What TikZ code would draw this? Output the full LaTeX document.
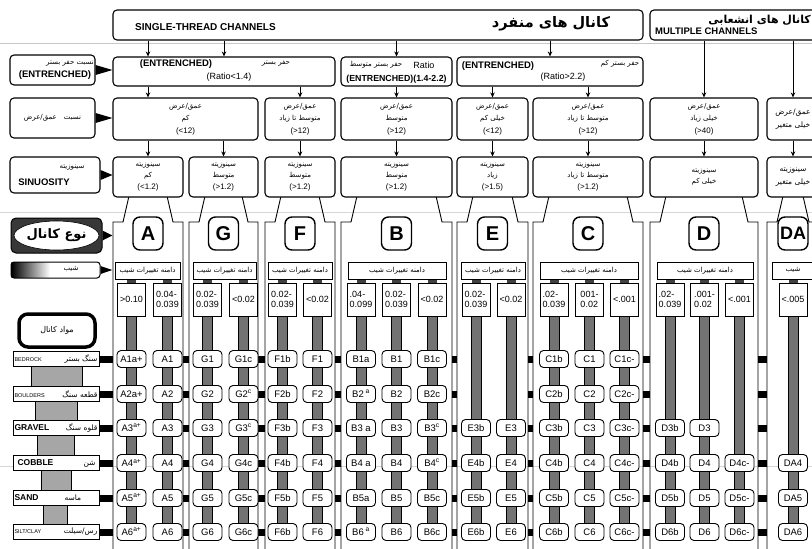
\documentclass[tikz,border=0pt]{standalone}
\usepackage{fontspec}
\setmainfont{Liberation Sans}
\newfontfamily\prsfont[Script=Arabic]{DejaVu Sans}
\TeXXeTstate=1
\newcommand\fatx[1]{{\prsfont\beginR #1\endR}}
\newcommand\numtx[1]{{\fontsize{8}{12}\selectfont #1}}
\usetikzlibrary{arrows.meta,shapes.geometric}
\begin{document}
\begin{tikzpicture}[x=1pt,y=-1pt,
 bx/.style={draw, line width=1.1pt, rounded corners=4pt, fill=white, inner sep=0pt},
 wd/.style={bx, align=center, font=\fontsize{7}{12.5}\selectfont},
 sn/.style={bx, align=center, font=\fontsize{7}{11.5}\selectfont},
 arr/.style={line width=0.8pt, -{Stealth[length=5pt,width=4.5pt]}},
 cellbox/.style={draw, line width=0.9pt, rounded corners=4pt, fill=white, minimum width=29pt, minimum height=17pt, inner sep=0pt, font=\fontsize{9.5}{9.5}\selectfont},
 valbox/.style={draw, line width=0.9pt, fill=white, minimum width=28pt, minimum height=33pt, inner sep=1pt, align=left, font=\fontsize{9}{10.5}\selectfont},
 rangebox/.style={draw, line width=0.9pt, fill=white, minimum height=17pt, inner sep=0pt, font=\fontsize{7}{7}\selectfont},
 letbox/.style={draw, line width=1.4pt, rounded corners=7pt, fill=white, minimum width=30pt, minimum height=33pt, inner sep=0pt, font=\fontsize{20}{20}\selectfont\bfseries},
 bar/.style={draw=black, line width=0.7pt, fill=black!55},
 colline/.style={line width=0.9pt},
 lbl/.style={inner sep=0pt},
 enb/.style={inner sep=0pt, font=\fontsize{9.5}{10}\selectfont\bfseries},
 rto/.style={inner sep=0pt, font=\fontsize{9}{10}\selectfont},
 fsm/.style={inner sep=0pt, font=\fontsize{7}{7}\selectfont},
 matbox/.style={draw, line width=0.9pt, fill=white, minimum width=86pt, minimum height=15pt, inner sep=0pt},
 ptr/.style={fill=black}
]
\useasboundingbox (0,0) rectangle (812,549);
\clip (0,0) rectangle (812,549);
\fill[white] (0,0) rectangle (812,549);

% faint scan lines
\draw[black!22, line width=0.7pt] (0,43) -- (812,43);
\draw[black!16, line width=0.7pt] (0,212) -- (812,212);
\draw[black!16, line width=0.7pt] (0,466) -- (812,466);

% column outlines
\foreach \xl/\xr in {113/183,189/258,265/335,341/452,457/528,533/643,650/758,767/819}{
 \draw[colline] (\xl,560) -- (\xl,222) -- (\xl+10,222) -- (\xl+16,196);
 \draw[colline] (\xr,560) -- (\xr,222) -- (\xr-10,222) -- (\xr-16,196);
}

% separator marks
\foreach \a/\b in {183/189,258/265,335/341,452/457,528/533,643/650,758/767}{
 \foreach \yy in {359,394,428,463,498,532}{
  \fill (\a,\yy-3.5) rectangle (\b,\yy+3.5);
 }
}

% ---------- top row
\node[bx, minimum width=530pt, minimum height=30pt] (top1) at (378,25) {};
\node[bx, minimum width=180pt, minimum height=30pt] (top2) at (740,25) {};
\node[lbl, font=\fontsize{10}{10}\selectfont\bfseries] (tS) at (205.5,27) {SINGLE-THREAD CHANNELS};
\node[lbl, font=\fontsize{14.5}{14.5}\selectfont\bfseries] (tSf) at (551,24) {\fatx{کانال های منفرد}};
\node[lbl, font=\fontsize{11}{11}\selectfont\bfseries, anchor=east] (tMf) at (811,20) {\fatx{کانال های انشعابی}};
\node[lbl, font=\fontsize{9.5}{10}\selectfont\bfseries, anchor=west] (tM) at (655,31) {MULTIPLE CHANNELS};

% ---------- row 2 : entrenchment
\node[bx, minimum width=85pt, minimum height=30pt] (lab1) at (52.5,70) {};
\node[fsm] (lab1a) at (70,63) {\fatx{نسبت حفر بستر}};
\node[enb] (lab1b) at (55,75) {(ENTRENCHED)};
\node[bx, minimum width=222pt, minimum height=29pt] (ent1) at (224,71.5) {};
\node[bx, minimum width=111pt, minimum height=29pt] (ent2) at (396.5,71.5) {};
\node[bx, minimum width=186pt, minimum height=29pt] (ent3) at (550,71.5) {};
\node[enb] (e1a) at (176,64) {(ENTRENCHED)};
\node[fsm] (e1b) at (276,63) {\fatx{حفر بستر}};
\node[rto] (e1c) at (229,77) {(Ratio<1.4)};
\node[fsm] (e2a) at (376,65) {\fatx{حفر بستر متوسط}};
\node[rto] (e2b) at (424,65) {Ratio};
\node[lbl, font=\fontsize{8.8}{9}\selectfont\bfseries] (e2c) at (396.5,79) {(ENTRENCHED)(1.4-2.2)};
\node[enb] (e3a) at (498,66) {(ENTRENCHED)};
\node[fsm] (e3b) at (620,64) {\fatx{حفر بستر کم}};
\node[rto] (e3c) at (563,77) {(Ratio>2.2)};

% ---------- row 3 : width/depth
\node[bx, minimum width=85pt, minimum height=40pt, font=\fontsize{7}{8}\selectfont] (lab2) at (52.5,118) {\fatx{نسبت\quad عمق/عرض}};
\node[wd, minimum width=145pt, minimum height=42pt] (wdA) at (185.5,119) {\fatx{عمق/عرض}\\\fatx{کم}\\\numtx{(<12)}};
\node[wd, minimum width=70pt, minimum height=42pt] (wdF) at (300,119) {\fatx{عمق/عرض}\\\fatx{متوسط تا زیاد}\\\numtx{(>12)}};
\node[wd, minimum width=111pt, minimum height=42pt] (wdB) at (396.5,119) {\fatx{عمق/عرض}\\\fatx{متوسط}\\\numtx{(>12)}};
\node[wd, minimum width=71pt, minimum height=42pt] (wdE) at (492.5,119) {\fatx{عمق/عرض}\\\fatx{خیلی کم}\\\numtx{(<12)}};
\node[wd, minimum width=110pt, minimum height=42pt] (wdC) at (588,119) {\fatx{عمق/عرض}\\\fatx{متوسط تا زیاد}\\\numtx{(>12)}};
\node[wd, minimum width=108pt, minimum height=42pt] (wdD) at (704,119) {\fatx{عمق/عرض}\\\fatx{خیلی زیاد}\\\numtx{(>40)}};
\node[wd, minimum width=52pt, minimum height=42pt, font=\fontsize{7.5}{13}\selectfont] (wdDA) at (793,119) {\fatx{عمق/عرض}\\\fatx{خیلی متغیر}};

% ---------- row 4 : sinuosity
\node[bx, minimum width=90pt, minimum height=36pt] (lab3) at (55,175) {};
\node[fsm] (lab3a) at (72,168) {\fatx{سینوزیته}};
\node[enb] (lab3b) at (44,182) {SINUOSITY};
\node[sn, minimum width=70pt, minimum height=40pt] (sinA) at (148,177) {\fatx{سینوزیته}\\\fatx{کم}\\\numtx{(<1.2)}};
\node[sn, minimum width=69pt, minimum height=40pt] (sinG) at (223.5,177) {\fatx{سینوزیته}\\\fatx{متوسط}\\\numtx{(>1.2)}};
\node[sn, minimum width=70pt, minimum height=40pt] (sinF) at (300,177) {\fatx{سینوزیته}\\\fatx{متوسط}\\\numtx{(>1.2)}};
\node[sn, minimum width=111pt, minimum height=40pt] (sinB) at (396.5,177) {\fatx{سینوزیته}\\\fatx{متوسط}\\\numtx{(>1.2)}};
\node[sn, minimum width=71pt, minimum height=40pt] (sinE) at (492.5,177) {\fatx{سینوزیته}\\\fatx{زیاد}\\\numtx{(>1.5)}};
\node[sn, minimum width=110pt, minimum height=40pt] (sinC) at (588,177) {\fatx{سینوزیته}\\\fatx{متوسط تا زیاد}\\\numtx{(>1.2)}};
\node[sn, minimum width=108pt, minimum height=40pt] (sinD) at (704,177) {\fatx{سینوزیته}\\\fatx{خیلی کم}};
\node[sn, minimum width=52pt, minimum height=40pt, font=\fontsize{7.5}{13}\selectfont] (sinDA) at (793,177) {\fatx{سینوزیته}\\\fatx{خیلی متغیر}};

% ---------- channel type letters
\node[letbox] (lA) at (148,233.5) {A};
\node[letbox] (lG) at (223.5,233.5) {G};
\node[letbox] (lF) at (300,233.5) {F};
\node[letbox] (lB) at (396.5,233.5) {B};
\node[letbox] (lE) at (492.5,233.5) {E};
\node[letbox] (lC) at (588,233.5) {C};
\node[letbox] (lD) at (704,233.5) {D};
\node[letbox, font=\fontsize{18}{18}\selectfont\bfseries] (lDA) at (793,233.5) {DA};

% ---------- bars
\foreach \x in {131.5,167.5,207.5,243.5,282.5,317.5,361,396.5,432,476,511,554,589.5,624.5,670,704.5,739.5,793}{
 \draw[bar] (\x-5,316) rectangle (\x+5,532);
 \fill[black!75] (\x-4.5,279) rectangle (\x+4.5,283.5);
}

% ---------- slope range boxes
\node[rangebox, minimum width=65pt] (rA) at (147.5,270.5) {\fatx{دامنه تغییرات شیب}};
\node[rangebox, minimum width=63pt] (rG) at (224.5,270.5) {\fatx{دامنه تغییرات شیب}};
\node[rangebox, minimum width=64pt] (rF) at (300,270.5) {\fatx{دامنه تغییرات شیب}};
\node[rangebox, minimum width=98pt] (rB) at (397,270.5) {\fatx{دامنه تغییرات شیب}};
\node[rangebox, minimum width=64pt] (rE) at (493,270.5) {\fatx{دامنه تغییرات شیب}};
\node[rangebox, minimum width=98pt] (rC) at (589,270.5) {\fatx{دامنه تغییرات شیب}};
\node[rangebox, minimum width=96pt] (rD) at (705,270.5) {\fatx{دامنه تغییرات شیب}};
\node[rangebox, minimum width=42pt] (rDA) at (793,270.5) {\fatx{شیب}};

% ---------- slope value boxes
\node[valbox] (vA1) at (131.5,299.5) {>0.10};
\node[valbox] (vA2) at (167.5,299.5) {0.04-\\0.039};
\node[valbox] (vG1) at (207.5,299.5) {0.02-\\0.039};
\node[valbox] (vG2) at (243.5,299.5) {<0.02};
\node[valbox] (vF1) at (282.5,299.5) {0.02-\\0.039};
\node[valbox] (vF2) at (317.5,299.5) {<0.02};
\node[valbox] (vB1) at (361,299.5) {.04-\\0.099};
\node[valbox] (vB2) at (396.5,299.5) {0.02-\\0.039};
\node[valbox] (vB3) at (432,299.5) {<0.02};
\node[valbox] (vE1) at (476,299.5) {0.02-\\0.039};
\node[valbox] (vE2) at (511,299.5) {<0.02};
\node[valbox] (vC1) at (554,299.5) {.02-\\0.039};
\node[valbox] (vC2) at (589.5,299.5) {001-\\0.02};
\node[valbox] (vC3) at (624.5,299.5) {<.001};
\node[valbox] (vD1) at (670,299.5) {.02-\\0.039};
\node[valbox] (vD2) at (704.5,299.5) {.001-\\0.02};
\node[valbox] (vD3) at (739.5,299.5) {<.001};
\node[valbox] (vDA) at (793,299.5) {<.005};

% ---------- cells, regular ones
\foreach \rw/\yy in {1/359,2/394,3/428,4/463,5/498,6/532}{
 \node[cellbox] (A\rw) at (167.5,\yy) {A\rw};
 \node[cellbox] (G\rw) at (207.5,\yy) {G\rw};
 \node[cellbox] (Fb\rw) at (282.5,\yy) {F\rw b};
 \node[cellbox] (F\rw) at (317.5,\yy) {F\rw};
 \node[cellbox] (B\rw) at (396.5,\yy) {B\rw};
 \node[cellbox] (Cb\rw) at (554,\yy) {C\rw b};
 \node[cellbox] (C\rw) at (589.5,\yy) {C\rw};
 \node[cellbox] (Cc\rw) at (624.5,\yy) {C\rw c-};
}
\foreach \rw/\yy in {3/428,4/463,5/498,6/532}{
 \node[cellbox] (Eb\rw) at (476,\yy) {E\rw b};
 \node[cellbox] (E\rw) at (511,\yy) {E\rw};
 \node[cellbox] (Db\rw) at (670,\yy) {D\rw b};
 \node[cellbox] (D\rw) at (704.5,\yy) {D\rw};
}
\foreach \rw/\yy in {4/463,5/498,6/532}{
 \node[cellbox] (Dc\rw) at (739.5,\yy) {D\rw c-};
 \node[cellbox] (DA\rw) at (793,\yy) {DA\rw};
}
% irregular cells
\node[cellbox] (Aa1) at (131.5,359) {A1a+};
\node[cellbox] (Aa2) at (131.5,394) {A2a+};
\node[cellbox] (Aa3) at (131.5,428) {A3\textsuperscript{a+}};
\node[cellbox] (Aa4) at (131.5,463) {A4\textsuperscript{a+}};
\node[cellbox] (Aa5) at (131.5,498) {A5\textsuperscript{a+}};
\node[cellbox] (Aa6) at (131.5,532) {A6\textsuperscript{a+}};
\node[cellbox] (Gc1) at (243.5,359) {G1c};
\node[cellbox] (Gc2) at (243.5,394) {G2\textsuperscript{c}};
\node[cellbox] (Gc3) at (243.5,428) {G3\textsuperscript{c}};
\node[cellbox] (Gc4) at (243.5,463) {G4c};
\node[cellbox] (Gc5) at (243.5,498) {G5c};
\node[cellbox] (Gc6) at (243.5,532) {G6c};
\node[cellbox] (Ba1) at (361,359) {B1a};
\node[cellbox] (Ba2) at (361,394) {B2\textsuperscript{ a}};
\node[cellbox] (Ba3) at (361,428) {B3 a};
\node[cellbox] (Ba4) at (361,463) {B4 a};
\node[cellbox] (Ba5) at (361,498) {B5a};
\node[cellbox] (Ba6) at (361,532) {B6\textsuperscript{ a}};
\node[cellbox] (Bc1) at (432,359) {B1c};
\node[cellbox] (Bc2) at (432,394) {B2c};
\node[cellbox] (Bc3) at (432,428) {B3\textsuperscript{c}};
\node[cellbox] (Bc4) at (432,463) {B4\textsuperscript{c}};
\node[cellbox] (Bc5) at (432,498) {B5c};
\node[cellbox] (Bc6) at (432,532) {B6c};

% ---------- left legend
\node[draw, line width=1pt, fill=black!78, rounded corners=5pt, minimum width=91pt, minimum height=35pt, inner sep=0pt] (typ) at (56.5,235.5) {};
\node[ellipse, draw, line width=0.6pt, fill=white, minimum width=85pt, minimum height=29pt, inner sep=0pt, font=\fontsize{13}{13}\selectfont\bfseries] (typE) at (56.5,235.5) {\fatx{نوع کانال}};
\shade[left color=black, right color=white] (11.5,262.5) rectangle (50,277.5);
\node[draw, line width=1pt, rounded corners=3pt, minimum width=89pt, minimum height=16pt, inner sep=0pt] (slope) at (55.5,270) {};
\node[fsm] (slopeT) at (71,269) {\fatx{شیب}};
\node[draw, line width=3.5pt, rounded corners=9pt, fill=white, minimum width=76pt, minimum height=33pt, inner sep=0pt, font=\fontsize{8}{8}\selectfont] (mat) at (57,330.5) {\fatx{مواد کانال}};

% material tapered connectors
\draw[fill=black!35, line width=0.7pt] (31,366) rectangle (82,387);
\draw[fill=black!35, line width=0.7pt] (35,401) rectangle (77,421);
\draw[fill=black!35, line width=0.7pt] (37,435) rectangle (74,456);
\draw[fill=black!35, line width=0.7pt] (41,470) rectangle (71,491);
\draw[fill=black!35, line width=0.7pt] (43,505) rectangle (67,525);
% material boxes
\node[matbox] (m1) at (56,359) {\makebox[83pt]{{\fontsize{5.5}{6}\selectfont BEDROCK}\hfill{\fontsize{7.5}{8}\selectfont\fatx{سنگ بستر}}}};
\node[matbox] (m2) at (56,394) {\makebox[83pt]{{\fontsize{5.5}{6}\selectfont BOULDERS}\hfill{\fontsize{7.5}{8}\selectfont\fatx{قطعه سنگ}}}};
\node[matbox] (m3) at (56,428) {\makebox[83pt]{{\fontsize{8.5}{9}\selectfont\bfseries GRAVEL}\hfill{\fontsize{7.5}{8}\selectfont\fatx{قلوه سنگ}}}};
\node[matbox] (m4) at (56,463) {\makebox[83pt]{\hspace{3pt}{\fontsize{8.5}{9}\selectfont\bfseries COBBLE}\hfill{\fontsize{7.5}{8}\selectfont\fatx{شن}}\hspace{2pt}}};
\node[matbox] (m5) at (56,498) {\makebox[83pt]{{\fontsize{8.5}{9}\selectfont\bfseries SAND}\hspace{26pt}{\fontsize{7.5}{8}\selectfont\fatx{ماسه}}\hfill}};
\node[matbox] (m6) at (56,532) {\makebox[83pt]{{\fontsize{5.5}{6}\selectfont SILT/CLAY}\hfill{\fontsize{7.5}{8}\selectfont\fatx{رس/سیلت}}}};
\foreach \yy in {359,394,428,463,498,532}{
 \fill (99,\yy-3.5) rectangle (113,\yy+3.5);
}

% ---------- pointers
\fill[ptr] ([yshift=5pt]lab1.east) -- (lab1.east -| ent1.west) -- ([yshift=-5pt]lab1.east) -- cycle;
\fill[ptr] ([yshift=5pt]lab2.east) -- (lab2.east -| wdA.west) -- ([yshift=-5pt]lab2.east) -- cycle;
\fill[ptr] ([yshift=5pt]lab3.east) -- (lab3.east -| sinA.west) -- ([yshift=-5pt]lab3.east) -- cycle;
\fill[ptr] ([yshift=5pt]typ.east) -- (typ.east -| sinA.west) -- ([yshift=-5pt]typ.east) -- cycle;
\fill[ptr] ([yshift=4pt]slope.east) -- (slope.east -| sinA.west) -- ([yshift=-4pt]slope.east) -- cycle;

% ---------- arrows
\draw[arr] (top1.south -| sinA) -- (ent1.north -| sinA);
\draw[arr] (top1.south -| ent1) -- (ent1.north);
\draw[arr] (top1.south -| ent2) -- (ent2.north);
\draw[arr] (top1.south -| ent3) -- (ent3.north);
\draw[arr] (top2.south -| wdD) -- (wdD.north);
\draw[arr] (top2.south -| wdDA) -- (wdDA.north);
\draw[arr] (ent1.south -| sinA) -- (wdA.north -| sinA);
\draw[arr] (ent1.south -| wdF) -- (wdF.north);
\draw[arr] (ent2.south) -- (wdB.north);
\draw[arr] (ent3.south -| wdE) -- (wdE.north);
\draw[arr] (ent3.south -| wdC) -- (wdC.north);
\draw[arr] (wdA.south -| sinA) -- (sinA.north);
\draw[arr] (wdA.south -| sinG) -- (sinG.north);
\draw[arr] (wdF.south) -- (sinF.north);
\draw[arr] (wdB.south) -- (sinB.north);
\draw[arr] (wdE.south) -- (sinE.north);
\draw[arr] (wdC.south) -- (sinC.north);
\draw[arr] (wdD.south) -- (sinD.north);
\draw[arr] (wdDA.south) -- (sinDA.north);
\end{tikzpicture}
\end{document}
